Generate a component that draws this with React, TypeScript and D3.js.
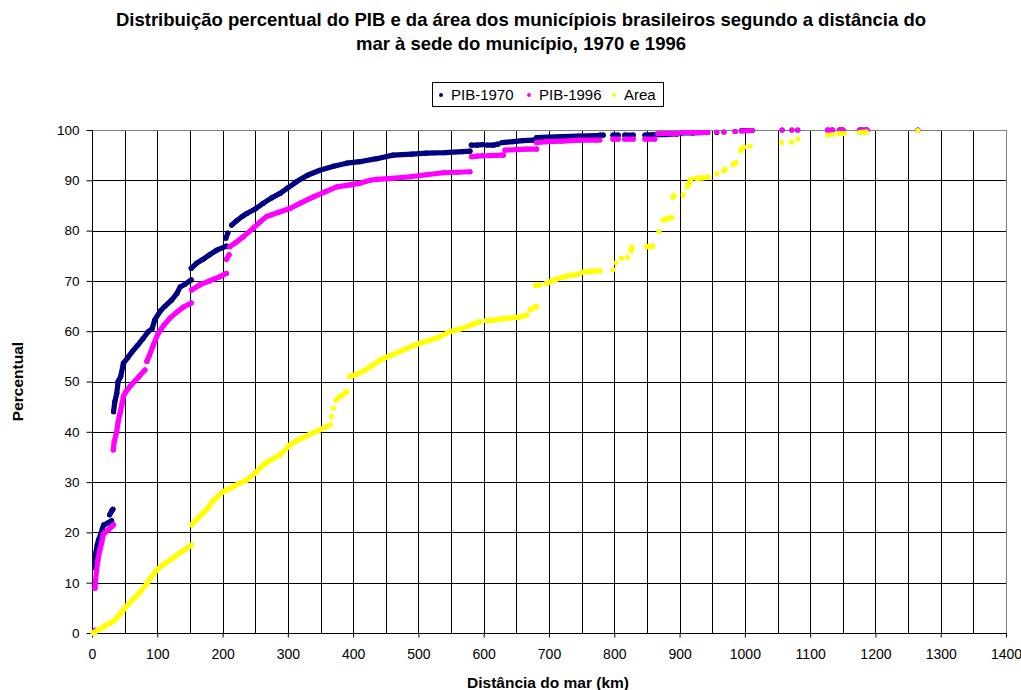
import React, { useEffect, useRef } from 'react';
import * as d3 from 'd3';

type Pt = [number, number];

// each series is a list of runs; a run of close points is drawn joined, single points as dots
const pib1970Runs: Pt[][] = [
  [[4, 13], [5, 14.5], [6, 16], [8, 17.5], [10, 18.5], [13, 19.5], [16, 20.8], [18, 21.5], [22, 21.7], [26, 22], [30, 22.3]],
  [[27, 23.5], [30, 24.2], [32, 24.6]],
  [[33, 44], [35, 46], [38, 47.7], [40, 50], [44, 51], [48, 53.6], [55, 54.8], [62, 56], [70, 57.2], [78, 58.5], [86, 59.9], [92, 60.5], [96, 62.2], [104, 63.9], [112, 65], [122, 66.2], [130, 67.5], [135, 68.8], [142, 69.3], [152, 70.2]],
  [[152, 72.5], [160, 73.5], [170, 74.3], [180, 75.2], [191, 76.1], [206, 76.9]],
  [[205, 78.5], [208, 79.5]],
  [[214, 81.1], [222, 82], [230, 82.8], [237, 83.4], [250, 84.3], [262, 85.4], [275, 86.5], [288, 87.4], [300, 88.5], [313, 89.7], [330, 91], [349, 92], [370, 92.8], [390, 93.4], [410, 93.7], [436, 94.3], [461, 95], [490, 95.2], [512, 95.4], [540, 95.5], [568, 95.7], [579, 95.8]],
  [[581, 97], [590, 97], [598, 97.1]],
  [[605, 97], [615, 97], [622, 97.2]],
  [[628, 97.5], [645, 97.7], [660, 97.9], [676, 98]],
  [[681, 98.5], [700, 98.6], [720, 98.7], [745, 98.8], [773, 98.9]],
  [[778, 99], [783, 99]], [[798, 99], [806, 99]], [[816, 99], [829, 99]], [[847, 99], [862, 99.1]],
  [[867, 99.1], [880, 99.1], [896, 99.2]], [[903, 99.4], [920, 99.4], [943, 99.5]],
  [[957, 99.5]], [[968, 99.6]], [[985, 99.7]], [[995, 99.9], [1011, 99.9]],
  [[1057, 100]], [[1072, 100]], [[1081, 100]], [[1127, 100]], [[1134, 100]], [[1145, 100], [1150, 100]],
  [[1176, 100], [1187, 100]], [[1265, 100]],
];

const pib1996Runs: Pt[][] = [
  [[4.6, 0.6]],
  [[4.6, 8.9], [5.5, 10.5], [7, 12.5], [9, 14.5], [12, 16.5], [15, 18], [17, 19.5], [20, 20], [25, 20.5], [29, 21], [33, 21.5]],
  [[32.6, 36.4], [34, 38], [37.8, 40], [40, 42], [43, 43.7], [46, 45.5], [48, 47], [52, 48], [58, 49], [65, 50], [72, 51], [81, 52.3]],
  [[84, 54], [88, 55.2], [94, 57.3], [101.5, 59.6], [110, 61.2], [119.5, 62.6], [130, 63.8], [140, 64.8], [152, 65.6]],
  [[152.6, 68.2], [165, 69.2], [180, 70], [195, 70.8], [206, 71.5]],
  [[206, 74.3], [210, 75.2]],
  [[211, 76.8], [220, 77.6], [232, 78.8], [247, 80.5], [258, 81.8], [267.5, 82.8], [285, 83.6], [303, 84.4], [320, 85.5], [339, 86.7], [357, 87.7], [375, 88.7], [395, 89.1], [410, 89.4], [426, 90], [436, 90.2], [460, 90.4], [487, 90.7], [512, 91.1], [538, 91.5], [560, 91.6], [579, 91.7]],
  [[581.5, 94.7], [590, 94.8], [600, 94.9]],
  [[607, 94.9], [630, 95]],
  [[632.6, 96], [650, 96.1], [665, 96.2], [681, 96.2]],
  [[681, 97.5], [696, 97.7], [720, 97.8], [747, 98], [773, 98]],
  [[778, 98]], [[798, 98.2], [806, 98.2]], [[816, 98.2], [829, 98.2]], [[847, 98.2], [862, 98.2]],
  [[867, 99.3], [880, 99.3], [896, 99.3]], [[903, 99.5], [920, 99.5], [943, 99.5]],
  [[957, 99.6]], [[968, 99.6]], [[985, 99.7]], [[995, 99.8], [1011, 99.9]],
  [[1057, 100]], [[1072, 100]], [[1081, 100]], [[1127, 100], [1134, 100]], [[1145, 100], [1150, 100]],
  [[1176, 100], [1187, 100]], [[1265, 100]],
];

const areaRuns: Pt[][] = [
  [[2, 0], [8, 0.5], [15, 1], [22, 1.6], [28, 2], [32.6, 2.3], [38, 3], [43, 3.8], [48, 4.6], [55, 5.6], [62, 6.6], [70, 7.6], [76, 8.5], [83, 9.6], [90, 11], [99, 12.5], [108, 13.5], [119.5, 14.5], [130, 15.5], [140, 16.4], [152.6, 17.5]],
  [[152.6, 21.5], [160, 22.5], [168, 23.6], [175.7, 24.5], [186, 26.4], [193, 27.2], [201, 28.1], [212, 28.8], [225, 29.7], [237, 30.4], [250, 31.8], [262, 33.4], [275, 34.5], [288, 35.4], [303, 37.4], [315, 38.3], [330, 39.3], [349, 40.4], [364.5, 41.4]],
  [[367, 43]], [[369.6, 44.7]],
  [[374, 46.3], [382, 47.2], [390, 48]],
  [[395, 51], [405, 51.4], [415.5, 52], [425, 52.8], [438.5, 54], [450, 54.8], [462, 55.4], [477, 56.3], [490, 57], [502, 57.6], [518, 58.2], [533, 58.9], [548, 59.9], [560, 60.3], [568.7, 60.6]],
  [[576, 61], [583, 61.4], [594, 61.9]],
  [[604, 62.1], [615, 62.2], [630, 62.5], [640, 62.6], [655, 62.8], [666, 63.2]],
  [[671, 64.3], [676, 64.6], [681, 64.9]],
  [[679, 69.1], [686, 69.2]],
  [[696, 69.5], [710, 70.3], [725, 70.9], [743, 71.3]],
  [[750, 71.7], [765, 71.9], [778, 72]],
  [[798, 72.2]], [[803, 73.6]], [[811, 74.5]], [[820, 74.7]], [[825.6, 76], [826.6, 76.7]],
  [[849.6, 76.8], [858.7, 76.9]], [[868.4, 79.8]], [[875, 82.1], [882, 82.4], [888, 82.6]],
  [[890, 86.6], [891, 87]], [[905.6, 87.1]], [[911.8, 88.7], [915, 89.5], [917, 90.2]],
  [[926, 90.4], [935, 90.5], [944, 90.6]], [[957, 91.3]], [[968, 91.9], [969.5, 92.2]],
  [[982, 93.2], [986, 93.5]], [[993.5, 95.9], [998, 96.6]], [[1008, 96.8]],
  [[1056, 97.5]], [[1071.6, 97.6]], [[1081, 98.2]], [[1127, 99]], [[1134, 99.1]],
  [[1143, 99.3], [1152, 99.3]], [[1176, 99.5], [1186, 99.6]], [[1265, 99.9]],
];

const seriesNames = ['PIB-1970', 'PIB-1996', 'Area'];
const seriesColors = ['#000080', '#ff00ff', '#ffff00'];
const xTicks = d3.range(0, 1401, 100);
const xGrid = d3.range(50, 1401, 50);
const yTicks = d3.range(0, 101, 10);

const font = '"Liberation Sans", Arial, sans-serif';

const App = () => {
  const ref = useRef<SVGSVGElement>(null);

  useEffect(() => {
    const svg = d3.select(ref.current);
    svg.selectAll('*').remove();

    const width = 1021;
    const height = 690;
    const left = 92, right = 1006, top = 130, bottom = 633;
    const r = 2.6;

    svg.attr('width', width).attr('height', height);

    const x = d3.scaleLinear().domain([0, 1400]).range([left, right]);
    const y = d3.scaleLinear().domain([0, 100]).range([bottom, top]);

    // title
    const title = svg.append('text')
      .attr('text-anchor', 'middle')
      .attr('font-family', font).attr('font-size', 18.5).attr('font-weight', 'bold');
    title.append('tspan').attr('x', 521).attr('y', 26)
      .text('Distribuição percentual do PIB e da área dos municípiois brasileiros segundo a distância do');
    title.append('tspan').attr('x', 521).attr('y', 50)
      .text('mar à sede do município, 1970 e 1996');

    // gridlines
    const grid = svg.append('g').attr('shape-rendering', 'crispEdges');
    grid.selectAll('.vg').data(xGrid).enter().append('line')
      .attr('x1', d => Math.round(x(d)) + 0.5).attr('x2', d => Math.round(x(d)) + 0.5)
      .attr('y1', top).attr('y2', bottom)
      .attr('stroke', '#000');
    grid.selectAll('.hg').data(yTicks.slice(1)).enter().append('line')
      .attr('x1', left).attr('x2', right)
      .attr('y1', d => Math.round(y(d)) + 0.5).attr('y2', d => Math.round(y(d)) + 0.5)
      .attr('stroke', '#000');

    // plot frame top/right
    grid.append('line').attr('x1', left).attr('x2', right).attr('y1', top + 0.5).attr('y2', top + 0.5).attr('stroke', '#808080');
    grid.append('line').attr('x1', right + 0.5).attr('x2', right + 0.5).attr('y1', top).attr('y2', bottom).attr('stroke', '#808080');

    // axes
    const xAxis = svg.append('g')
      .attr('transform', `translate(0, ${bottom + 0.5})`)
      .call(d3.axisBottom(x).tickValues(xTicks).tickSize(4).tickPadding(12).tickFormat(d3.format('d')));
    const yAxis = svg.append('g')
      .attr('transform', `translate(${left + 0.5}, 0)`)
      .call(d3.axisLeft(y).tickValues(yTicks).tickSize(6).tickPadding(7).tickFormat(d3.format('d')));
    [xAxis, yAxis].forEach(a => {
      a.select('.domain').remove();
      a.selectAll('.tick line').attr('stroke', '#000');
      a.selectAll('.tick text').attr('font-family', font).attr('fill', '#000');
    });
    xAxis.selectAll('.tick text').attr('font-size', 14);
    yAxis.selectAll('.tick text').attr('font-size', 13.5);
    svg.append('line').attr('x1', left).attr('x2', right + 1).attr('y1', bottom + 0.5).attr('y2', bottom + 0.5).attr('stroke', '#000');
    svg.append('line').attr('x1', left + 0.5).attr('x2', left + 0.5).attr('y1', top).attr('y2', bottom + 1).attr('stroke', '#000');

    // axis titles
    svg.append('text')
      .attr('x', 548).attr('y', 688)
      .attr('text-anchor', 'middle')
      .attr('font-family', font).attr('font-size', 15.5).attr('font-weight', 'bold')
      .text('Distância do mar (km)');
    svg.append('text')
      .attr('transform', `translate(23, ${(top + bottom) / 2}) rotate(-90)`)
      .attr('text-anchor', 'middle')
      .attr('font-family', font).attr('font-size', 15.5).attr('font-weight', 'bold')
      .text('Percentual');

    // series
    const line = d3.line<Pt>().x(d => x(d[0])).y(d => y(d[1]));
    [pib1970Runs, pib1996Runs, areaRuns].forEach((runs, i) => {
      const g = svg.append('g');
      g.selectAll('path').data(runs.filter(run => run.length > 1)).enter().append('path')
        .attr('d', d => line(d))
        .attr('fill', 'none')
        .attr('stroke', seriesColors[i])
        .attr('stroke-width', r * 2)
        .attr('stroke-linecap', 'round')
        .attr('stroke-linejoin', 'round');
      g.selectAll('circle').data(runs.flat()).enter().append('circle')
        .attr('cx', d => x(d[0]))
        .attr('cy', d => y(d[1]))
        .attr('r', r)
        .attr('fill', seriesColors[i]);
    });

    // legend
    const legend = svg.append('g');
    legend.append('rect')
      .attr('x', 432.5).attr('y', 82.5).attr('width', 231).attr('height', 24)
      .attr('fill', '#fff').attr('stroke', '#000');
    const legendX = [441, 529, 614];
    seriesNames.forEach((name, i) => {
      legend.append('circle').attr('cx', legendX[i]).attr('cy', 95).attr('r', 2).attr('fill', seriesColors[i]);
      legend.append('text')
        .attr('x', legendX[i] + 10).attr('y', 100)
        .attr('font-family', font).attr('font-size', 15)
        .text(name);
    });
  }, []);

  return <svg ref={ref} style={{ position: 'absolute', left: 0, top: 0 }} />;
};

export default App;
